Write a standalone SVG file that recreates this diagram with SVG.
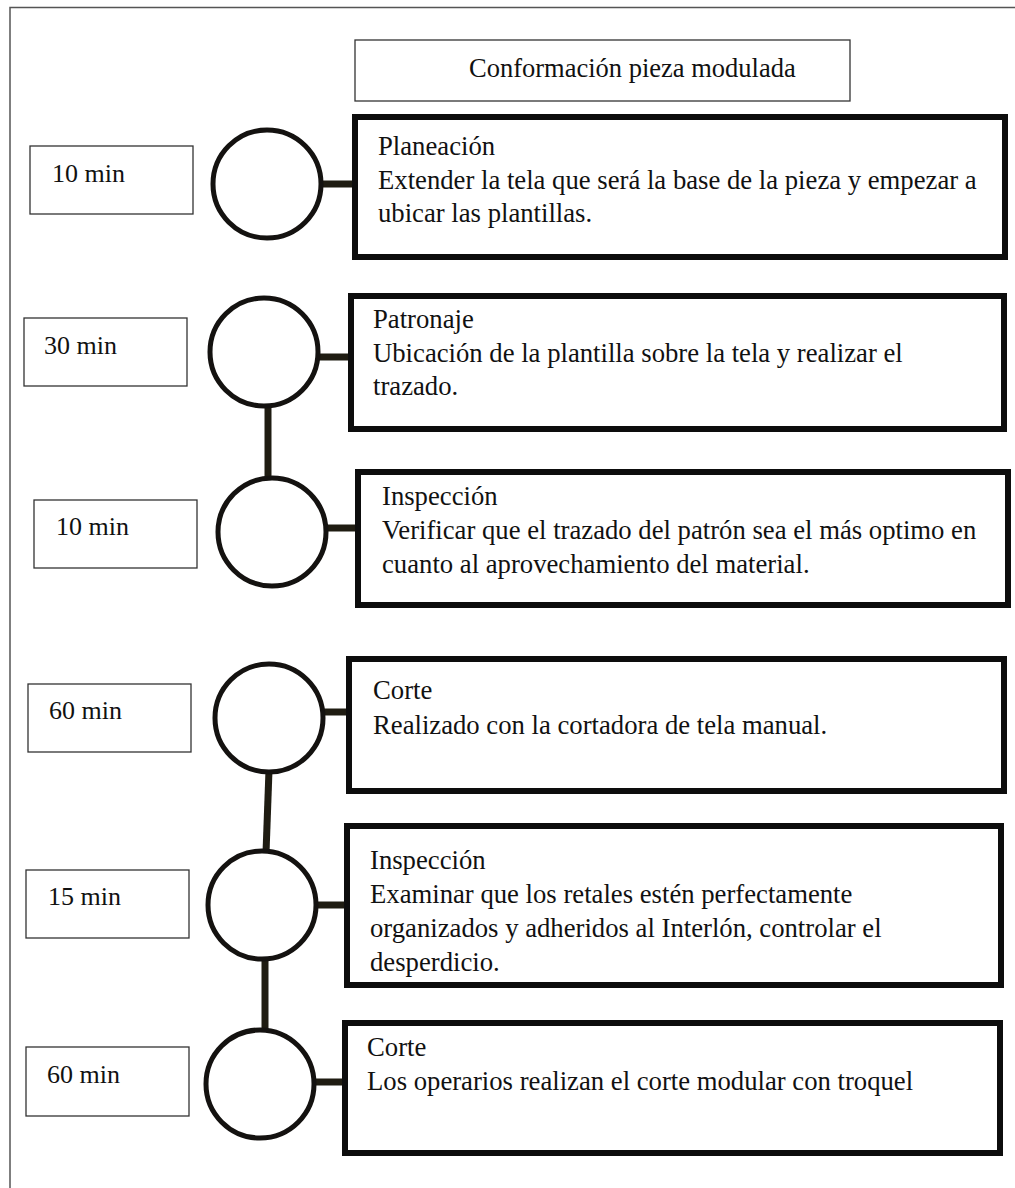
<svg xmlns="http://www.w3.org/2000/svg" width="1015" height="1188" viewBox="0 0 1015 1188" font-family="'Liberation Serif', 'Times New Roman', Times, serif">
  <style>
    text { fill: #111; }
    .title { font-size: 26.5px; }
    .time { font-size: 26px; }
    .body { font-size: 26.7px; }
    .frame { fill: none; stroke: #555; stroke-width: 1.5; }
    .tbox { fill: #fff; stroke: #333; stroke-width: 1.3; }
    .step { fill: #fff; stroke: #0d0d0d; stroke-width: 6; }
    .node { fill: #fff; stroke: #141210; stroke-width: 5; }
    .link { stroke: #1f1c12; stroke-width: 7; fill: none; }
  </style>
  <rect width="1015" height="1188" fill="#fff"/>

  <!-- outer frame (right and bottom sides run off the page) -->
  <path class="frame" d="M10 1188 V7.5 H1015"/>

  <g id="title">
    <rect class="tbox" x="355" y="40" width="495" height="61"/>
    <text class="title" x="469" y="77">Conformación pieza modulada</text>
  </g>

  <!-- connectors -->
  <g id="connectors">
    <line class="link" x1="320" y1="184" x2="356" y2="184"/>
    <line class="link" x1="317" y1="357" x2="351" y2="357"/>
    <line class="link" x1="326" y1="528" x2="358" y2="528"/>
    <line class="link" x1="322" y1="712" x2="349" y2="712"/>
    <line class="link" x1="315" y1="905" x2="348" y2="905"/>
    <line class="link" x1="313" y1="1082" x2="346" y2="1082"/>
    <line class="link" x1="268" y1="404" x2="268" y2="480"/>
    <line class="link" x1="269" y1="770" x2="266" y2="853"/>
    <line class="link" x1="265" y1="957" x2="265" y2="1032"/>
  </g>

  <!-- step 1 -->
  <g id="time-1"><rect class="tbox" x="30" y="146" width="163" height="68"/><text class="time" x="52" y="182">10 min</text></g>
  <g id="node-1"><circle class="node" cx="267" cy="184" r="54"/></g>
  <g id="step-1">
    <rect class="step" x="355" y="117" width="650" height="140"/>
    <text class="body" x="378" y="155">Planeación</text>
    <text class="body" x="378" y="189">Extender la tela que será la base de la pieza y empezar a</text>
    <text class="body" x="378" y="222">ubicar las plantillas.</text>
  </g>

  <!-- step 2 -->
  <g id="time-2"><rect class="tbox" x="24" y="318" width="163" height="68"/><text class="time" x="44" y="354">30 min</text></g>
  <g id="node-2"><circle class="node" cx="264" cy="352" r="54"/></g>
  <g id="step-2">
    <rect class="step" x="351" y="296" width="653" height="133"/>
    <text class="body" x="373" y="328">Patronaje</text>
    <text class="body" x="373" y="362">Ubicación de la plantilla sobre la tela y realizar el</text>
    <text class="body" x="373" y="395">trazado.</text>
  </g>

  <!-- step 3 -->
  <g id="time-3"><rect class="tbox" x="34" y="500" width="163" height="68"/><text class="time" x="56" y="535">10 min</text></g>
  <g id="node-3"><circle class="node" cx="272" cy="532" r="54"/></g>
  <g id="step-3">
    <rect class="step" x="358" y="472" width="650" height="133"/>
    <text class="body" x="382" y="505">Inspección</text>
    <text class="body" x="382" y="539">Verificar que el trazado del patrón sea el más optimo en</text>
    <text class="body" x="382" y="573">cuanto al aprovechamiento del material.</text>
  </g>

  <!-- step 4 -->
  <g id="time-4"><rect class="tbox" x="28" y="684" width="163" height="68"/><text class="time" x="49" y="719">60 min</text></g>
  <g id="node-4"><circle class="node" cx="269" cy="718" r="54"/></g>
  <g id="step-4">
    <rect class="step" x="349" y="659" width="655" height="132"/>
    <text class="body" x="373" y="699">Corte</text>
    <text class="body" x="373" y="734">Realizado con la cortadora de tela manual.</text>
  </g>

  <!-- step 5 -->
  <g id="time-5"><rect class="tbox" x="26" y="870" width="163" height="68"/><text class="time" x="48" y="905">15 min</text></g>
  <g id="node-5"><circle class="node" cx="262" cy="905" r="54"/></g>
  <g id="step-5">
    <rect class="step" x="347" y="826" width="654" height="159"/>
    <text class="body" x="370" y="869">Inspección</text>
    <text class="body" x="370" y="903">Examinar que los retales estén perfectamente</text>
    <text class="body" x="370" y="937">organizados y adheridos al Interlón, controlar el</text>
    <text class="body" x="370" y="971">desperdicio.</text>
  </g>

  <!-- step 6 -->
  <g id="time-6"><rect class="tbox" x="26" y="1047" width="163" height="69"/><text class="time" x="47" y="1083">60 min</text></g>
  <g id="node-6"><circle class="node" cx="260" cy="1084" r="54"/></g>
  <g id="step-6">
    <rect class="step" x="345" y="1023" width="655" height="130"/>
    <text class="body" x="367" y="1056">Corte</text>
    <text class="body" x="367" y="1090">Los operarios realizan el corte modular con troquel</text>
  </g>
</svg>
